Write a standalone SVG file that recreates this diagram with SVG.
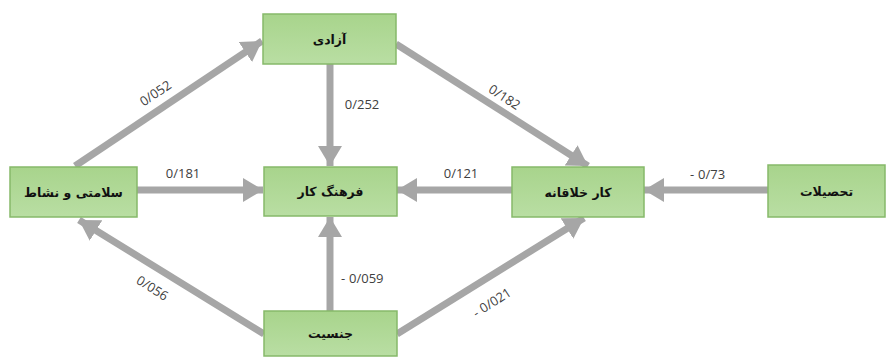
<svg xmlns="http://www.w3.org/2000/svg" width="891" height="358" viewBox="0 0 891 358">
<defs>
<linearGradient id="g" x1="0" y1="0" x2="0" y2="1">
<stop offset="0" stop-color="#a8d48c"/>
<stop offset="1" stop-color="#b9dea3"/>
</linearGradient>
<marker id="ah" markerUnits="userSpaceOnUse" markerWidth="22" markerHeight="24" refX="20" refY="12" orient="auto">
<path d="M0,0 L20,12 L0,24 Z" fill="#a6a6a6"/>
</marker>
<style>
.box{fill:url(#g);stroke:#86b96a;stroke-width:1.5}
.nt{font-family:"DejaVu Sans",sans-serif;font-weight:bold;font-size:12.5px;fill:#111;text-anchor:middle;direction:rtl}
.ln{stroke:#a6a6a6;stroke-width:7;fill:none;marker-end:url(#ah)}
.lb{font-family:"Open Sans","Liberation Sans",sans-serif;font-size:13px;fill:#404040;text-anchor:middle}
.ls{font-family:"Open Sans","Liberation Sans",sans-serif;font-size:13px;fill:#404040;text-anchor:start}
</style>
</defs>
<rect width="891" height="358" fill="#fff"/>
<g id="connectors">
<line class="ln" x1="75" y1="166" x2="262" y2="41"/>
<line class="ln" x1="330" y1="64" x2="330" y2="166"/>
<line class="ln" x1="396" y1="44" x2="588" y2="166"/>
<line class="ln" x1="137" y1="190" x2="263" y2="190"/>
<line class="ln" x1="512" y1="190" x2="397" y2="190"/>
<line class="ln" x1="768" y1="190" x2="644" y2="190"/>
<line class="ln" x1="264" y1="334" x2="79" y2="220"/>
<line class="ln" x1="330" y1="311" x2="330" y2="217"/>
<line class="ln" x1="397" y1="334" x2="584" y2="218"/>
</g>
<g id="labels">
<text class="lb" transform="translate(158,97) rotate(-34)">0/052</text>
<text class="lb" x="362" y="109">0/252</text>
<text class="lb" transform="translate(502,101) rotate(33)">0/182</text>
<text class="lb" x="183" y="178">0/181</text>
<text class="lb" x="461" y="178">0/121</text>
<text class="ls" x="690" y="179">-</text><text class="ls" x="698" y="179">0/73</text>
<text class="lb" transform="translate(150,292) rotate(32)">0/056</text>
<text class="ls" x="341" y="283">-</text><text class="ls" x="349" y="283">0/059</text>
<g transform="translate(495,306) rotate(-33)"><text class="ls" x="-22" y="0">-</text><text class="ls" x="-14" y="0">0/021</text></g>
</g>
<g id="n-azadi"><rect class="box" x="263" y="14" width="133" height="50"/><text class="nt" x="329.5" y="44">آزادی</text></g>
<g id="n-salamati"><rect class="box" x="10" y="167" width="127" height="50"/><text class="nt" x="73.5" y="197">سلامتی و نشاط</text></g>
<g id="n-farhang"><rect class="box" x="264" y="167" width="133" height="49"/><text class="nt" x="330.5" y="196">فرهنگ کار</text></g>
<g id="n-kar"><rect class="box" x="512" y="167" width="132" height="50"/><text class="nt" x="578" y="197">کار خلاقانه</text></g>
<g id="n-tahsilat"><rect class="box" x="768" y="165" width="117" height="52"/><text class="nt" x="826.5" y="196">تحصیلات</text></g>
<g id="n-jensiat"><rect class="box" x="264" y="311" width="133" height="45"/><text class="nt" x="330.5" y="338">جنسیت</text></g>
</svg>
